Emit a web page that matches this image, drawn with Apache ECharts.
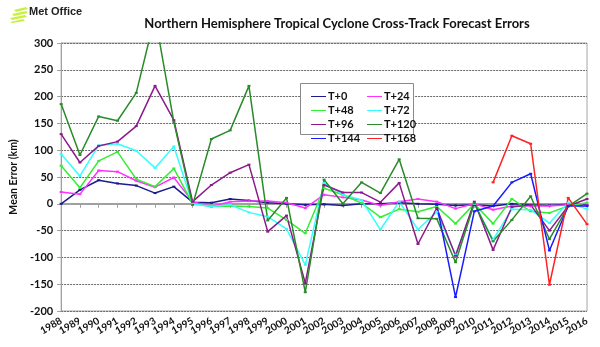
<!DOCTYPE html>
<html>
<head>
<meta charset="utf-8">
<script src="https://cdn.jsdelivr.net/npm/echarts@6/dist/echarts.min.js"></script>
<style>
  html, body { margin: 0; padding: 0; background: #fff; }
  #chart { width: 600px; height: 347px; }
</style>
</head>
<body>
<div id="chart"></div>
<script>
// Cross-track forecast errors (km) by lead time, 1988-2016
const years = ['1988','1989','1990','1991','1992','1993','1994','1995','1996','1997','1998','1999','2000','2001','2002','2003','2004','2005','2006','2007','2008','2009','2010','2011','2012','2013','2014','2015','2016'];

const t0   = [0, 26, 44, 38, 34, 20, 32, 3, 2, 9, 6, 2, 0, -2, -1, -3, 0, 0, 2, 0, -1, -3, -2, -4, 0, -2, -3, -1, -2];
const t24  = [22, 18, 62, 60, 43, 31, 49, 4, -5, 4, 5, 5, 2, -8, 17, 12, 7, -3, 4, 9, 4, -9, 0, -11, -4, -4, -4, -2, -3];
const t48  = [71, 30, 80, 97, 46, 32, 66, 0, -5, -4, -5, -8, -30, -55, 29, 17, 1, -25, -10, -15, -5, -37, 0, -37, 9, -14, -17, -4, 2];
const t72  = [93, 52, 109, 112, 99, 67, 107, 0, -5, -2, -16, -24, -47, -114, 39, 17, 7, -48, 4, -48, -15, -95, 0, -67, -10, -11, -36, 2, -10];
const t96  = [130, 77, 108, 116, 145, 220, 156, 4, 35, 58, 73, -52, -22, -148, 35, 21, 21, 3, 39, -75, -8, -97, 4, -86, -6, -2, -50, -4, 9];
const t120 = [186, 91, 163, 155, 207, 350, 153, -2, 121, 137, 220, -31, 11, -165, 45, 0, 40, 20, 83, -27, -28, -109, 1, -70, -30, 14, -66, -5, 19];
const t144 = [null, null, null, null, null, null, null, null, null, null, null, null, null, null, null, null, null, null, null, null, -2, -174, -14, -4, 40, 56, -87, -4, -4];
const t168 = [null, null, null, null, null, null, null, null, null, null, null, null, null, null, null, null, null, null, null, null, null, null, null, 40, 127, 112, -151, 11, -38];

const yTicks = { min: -200, max: 300, interval: 50 };

const seriesDefs = [
  { name: 'T+0',   data: t0,   color: '#1c1c8c' },
  { name: 'T+24',  data: t24,  color: '#ff33ff' },
  { name: 'T+48',  data: t48,  color: '#33ee33' },
  { name: 'T+72',  data: t72,  color: '#33ffff' },
  { name: 'T+96',  data: t96,  color: '#8b1a8b' },
  { name: 'T+120', data: t120, color: '#2a8a2a' },
  { name: 'T+144', data: t144, color: '#1a1aff' },
  { name: 'T+168', data: t168, color: '#ff2222' }
];

const FONT = 'Lato, "Liberation Sans", sans-serif';
const chart = echarts.init(document.getElementById('chart'), null, { renderer: 'canvas' });

const series = seriesDefs.map(s => ({
  name: s.name,
  type: 'line',
  data: s.data,
  xAxisIndex: 0,
  color: s.color,
  symbol: 'rect',
  symbolSize: [3, 2],
  showSymbol: true,
  connectNulls: false,
  lineStyle: { width: 1.5, color: s.color },
  itemStyle: { color: s.color },
  emphasis: { disabled: true },
  animation: false
}));

const legendCommon = {
  orient: 'vertical',
  itemWidth: 15,
  itemHeight: 6,
  itemGap: 3,
  icon: 'path://M0,2.5L15,2.5L15,3.5L0,3.5Z',
  textStyle: { fontFamily: FONT, fontWeight: 'bold', fontSize: 11, color: '#111', padding: [0, 0, 0, -3] },
  selectedMode: false
};

chart.setOption({
  backgroundColor: '#ffffff',
  animation: false,
  title: {
    text: 'Northern Hemisphere Tropical Cyclone Cross-Track Forecast Errors',
    left: 332, top: 12, textAlign: 'center',
    textStyle: { fontFamily: FONT, fontWeight: 'bold', fontSize: 13, color: '#111' }
  },
  grid: {
    left: 61, right: 13, top: 43, bottom: 36,
    show: true, borderColor: '#a6a6a6', borderWidth: 1, backgroundColor: 'transparent'
  },
  legend: [
    Object.assign({ left: 306, top: 86, data: ['T+0', 'T+48', 'T+96', 'T+144'] }, legendCommon),
    Object.assign({ left: 362, top: 86, data: ['T+24', 'T+72', 'T+120', 'T+168'] }, legendCommon)
  ],
  xAxis: [
    {
      type: 'category', data: years, boundaryGap: false,
      position: 'bottom',
      axisLine: { onZero: false, show: false },
      axisTick: { show: false },
      axisLabel: {
        interval: 0, rotate: 30, margin: 9,
        fontFamily: FONT, fontWeight: 'bold', fontSize: 10, color: '#111'
      },
      splitLine: { show: false }
    },
    {
      type: 'category', data: years, boundaryGap: false,
      position: 'top',
      axisLine: { onZero: true, lineStyle: { color: '#a0a0a0', width: 2 } },
      axisTick: { show: true, inside: true, length: 4, interval: 0, lineStyle: { color: '#a0a0a0' } },
      axisLabel: { show: false },
      splitLine: { show: false }
    }
  ],
  yAxis: {
    type: 'value', min: yTicks.min, max: yTicks.max, interval: yTicks.interval,
    name: 'Mean Error (km)', nameLocation: 'middle', nameGap: 36, nameRotate: 90,
    nameTextStyle: { fontFamily: FONT, fontWeight: 'bold', fontSize: 10.5, color: '#111' },
    axisLine: { show: true, onZero: false, lineStyle: { color: '#a0a0a0' } },
    axisTick: { show: true, length: 4, lineStyle: { color: '#a0a0a0' } },
    axisLabel: { fontFamily: FONT, fontWeight: 'bold', fontSize: 11, color: '#111', margin: 8 },
    splitLine: { show: true, lineStyle: { color: '#6a6a6a', type: [2, 1], width: 1 } }
  },
  graphic: [
    // legend frame
    { type: 'rect', shape: { x: 300.5, y: 83.5, width: 113, height: 51 },
      style: { fill: '#fff', stroke: '#8a8a8a', lineWidth: 1 }, z: 3 },
    // Met Office logo mark
    { type: 'group', left: 10, top: 7, z: 10, children: [
      { type: 'polygon', shape: { points: [[4,3],[16,0],[18,2],[6,5]] }, style: { fill: '#c8f040' } },
      { type: 'polygon', shape: { points: [[2,7],[16,4],[18,6],[4,9]] }, style: { fill: '#c8f040' } },
      { type: 'polygon', shape: { points: [[0,11],[15,8],[17,10],[2,13]] }, style: { fill: '#c8f040' } },
      { type: 'polygon', shape: { points: [[0,15],[13,12],[15,14],[2,16]] }, style: { fill: '#c8f040' } }
    ]},
    { type: 'text', left: 29, top: 6, z: 10,
      style: { text: 'Met Office', fill: '#222', font: 'bold 11px "Liberation Sans Narrow", "Liberation Sans", sans-serif' } }
  ],
  series: series
});
</script>
</body>
</html>
